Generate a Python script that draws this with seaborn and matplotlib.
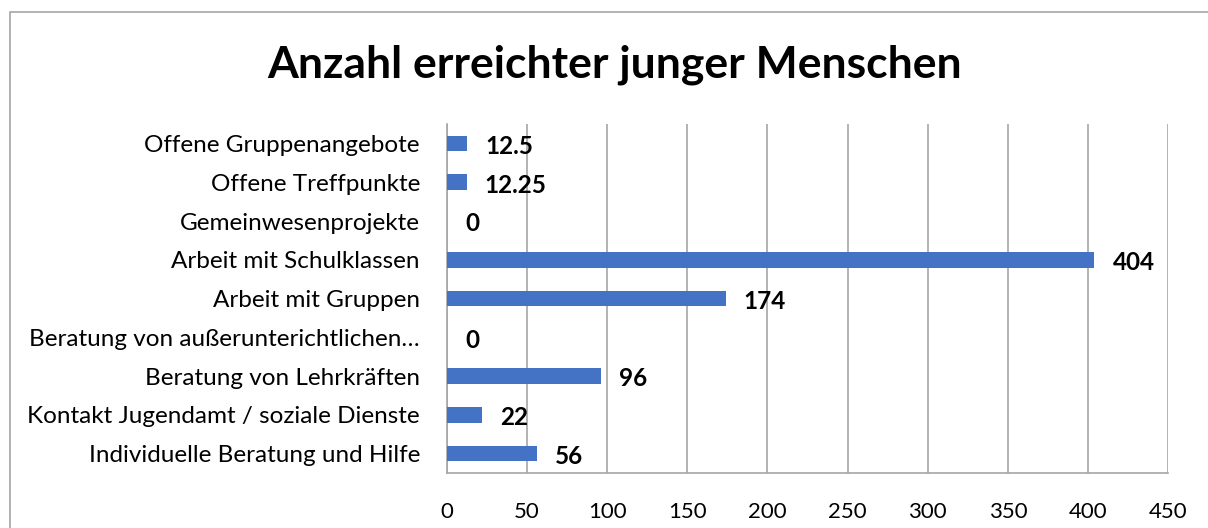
import pandas as pd
import seaborn as sns
import matplotlib.pyplot as plt
import numpy as np
from matplotlib.patches import Rectangle

# data (top to bottom)
categories = [
    "Offene Gruppenangebote",
    "Offene Treffpunkte",
    "Gemeinwesenprojekte",
    "Arbeit mit Schulklassen",
    "Arbeit mit Gruppen",
    "Beratung von außerunterichtlichen…",
    "Beratung von Lehrkräften",
    "Kontakt Jugendamt / soziale Dienste",
    "Individuelle Beratung und Hilfe",
]
values = [12.5, 12.25, 0, 404, 174, 0, 96, 22, 56]
x_ticks = list(range(0, 451, 50))

df = pd.DataFrame({"Kategorie": categories, "Anzahl": values})

sns.set_style("white")
plt.rcParams['font.family'] = ['Lato', 'DejaVu Sans']

fig = plt.figure(figsize=(12.08, 5.28), dpi=100)
ax = fig.add_axes([0.370, 0.104, 0.597, 0.661])

sns.barplot(data=df, y="Kategorie", x="Anzahl", orient="h", color="#4472C4",
            saturation=1, width=0.4, linewidth=0, ax=ax, zorder=3)

ax.set_xlim(x_ticks[0], x_ticks[-1])
ax.set_xticks(x_ticks)
ax.set_ylim(len(categories) - 0.5, -0.5)
ax.set_xlabel("")
ax.set_ylabel("")

# gridlines
ax.grid(axis="x", color="#a6a6a6", linewidth=1.2, zorder=0)
ax.set_axisbelow(True)
for s in ["top", "right"]:
    ax.spines[s].set_visible(False)
for s in ["left", "bottom"]:
    ax.spines[s].set_color("#a6a6a6")
    ax.spines[s].set_linewidth(1.2)

# y ticks between categories
ax.tick_params(axis="y", which="major", length=0, pad=19.5, labelsize=17.5, labelcolor="black")
ax.set_yticks(np.arange(-0.5, len(categories), 1), minor=True)
ax.tick_params(axis="y", which="minor", length=6, color="#a6a6a6", width=1.2)
ax.tick_params(axis="x", length=6, color="#a6a6a6", width=1.2, pad=15, labelsize=16, labelcolor="black")

# value labels
for i, v in enumerate(values):
    ax.annotate(f"{v:g}", xy=(v, i), xytext=(13, -2), textcoords="offset points",
                ha="left", va="center", fontsize=17.5, fontweight="bold", color="black")

fig.text(0.509, 0.877, "Anzahl erreichter junger Menschen", ha="center", va="center",
         fontsize=32, fontweight="bold", color="black")

# chart frame
fig.patches.append(Rectangle((10 / 1208, -0.1), 1.2, 1.1 - 12 / 528, transform=fig.transFigure,
                             fill=False, edgecolor="#a6a6a6", linewidth=1.2))

fig.savefig("out.png", dpi=100)
